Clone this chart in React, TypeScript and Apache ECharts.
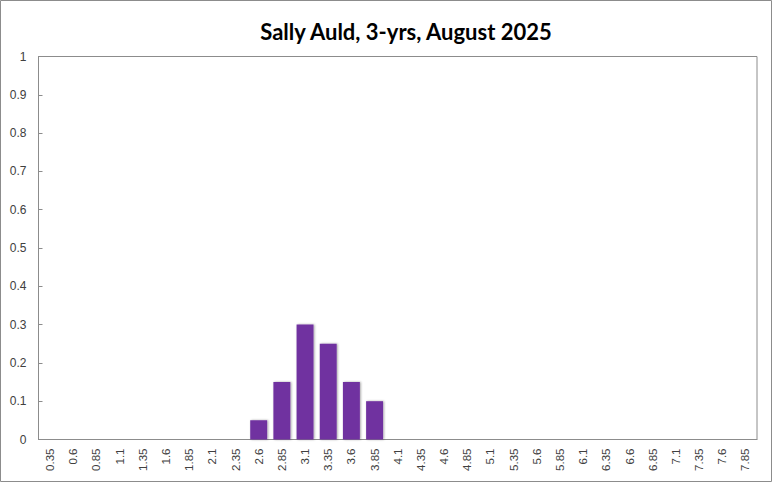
import { useEffect, useRef } from 'react';
import * as echarts from 'echarts';

const categories = [
  '0.35', '0.6', '0.85', '1.1', '1.35', '1.6', '1.85', '2.1', '2.35', '2.6', '2.85',
  '3.1', '3.35', '3.6', '3.85', '4.1', '4.35', '4.6', '4.85', '5.1', '5.35', '5.6',
  '5.85', '6.1', '6.35', '6.6', '6.85', '7.1', '7.35', '7.6', '7.85',
];
const values = [
  0, 0, 0, 0, 0, 0, 0, 0, 0, 0.05, 0.15,
  0.3, 0.25, 0.15, 0.1, 0, 0, 0, 0, 0, 0, 0,
  0, 0, 0, 0, 0, 0, 0, 0, 0,
];
const titleText = 'Sally Auld, 3-yrs, August 2025';

export default function App() {
  const ref = useRef<HTMLDivElement>(null);

  useEffect(() => {
    if (!ref.current) return;
    document.body.style.margin = '0';
    const chart = echarts.init(ref.current, null, { renderer: 'svg' });
    const textColor = '#404040';

    chart.setOption({
      animation: false,
      backgroundColor: '#fff',
      title: {
        text: titleText,
        left: 401,
        top: 15,
        textAlign: 'center',
        textStyle: { fontFamily: 'Lato', fontSize: 22, fontWeight: 'bold', color: '#000' },
      },
      graphic: [
        {
          type: 'rect',
          shape: { x: 0.5, y: 0.5, width: 771, height: 481 },
          style: { fill: 'none', stroke: '#8c8c8c', lineWidth: 1 },
          silent: true,
        },
      ],
      grid: {
        left: 38.5,
        right: 15,
        top: 56.5,
        bottom: 42.5,
        show: true,
        borderColor: '#8c8c8c',
        borderWidth: 1,
      },
      xAxis: {
        type: 'category',
        data: categories,
        boundaryGap: true,
        axisLine: { lineStyle: { color: '#8c8c8c' } },
        axisTick: { inside: true, length: 4, alignWithLabel: false, lineStyle: { color: '#8c8c8c' } },
        axisLabel: {
          rotate: 90,
          interval: 0,
          margin: 9,
          color: textColor,
          fontFamily: 'Liberation Sans',
          fontSize: 11.5,
        },
      },
      yAxis: {
        type: 'value',
        min: 0,
        max: 1,
        interval: 0.1,
        axisLine: { show: true, lineStyle: { color: '#8c8c8c' } },
        axisTick: { show: true, inside: true, length: 4, lineStyle: { color: '#8c8c8c' } },
        splitLine: { show: false },
        axisLabel: {
          color: textColor,
          fontFamily: 'Liberation Sans',
          fontSize: 12,
          margin: 12,
          formatter: (v: number) => String(Math.round(v * 10) / 10),
        },
      },
      series: [
        {
          type: 'bar',
          data: values,
          barCategoryGap: '27%',
          itemStyle: {
            color: '#7030A0',
            shadowColor: 'rgba(0,0,0,0.35)',
            shadowBlur: 2,
            shadowOffsetX: 1,
            shadowOffsetY: 0,
          },
        },
      ],
    });

    return () => chart.dispose();
  }, []);

  return <div ref={ref} style={{ position: 'fixed', left: 0, top: 0, width: 772, height: 482 }} />;
}
